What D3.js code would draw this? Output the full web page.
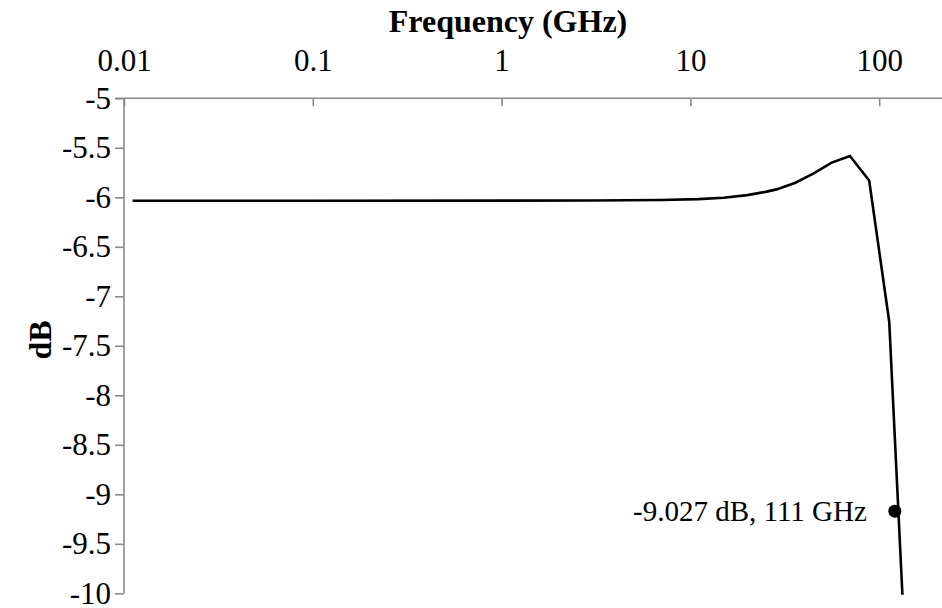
<!DOCTYPE html>
<html>
<head>
<meta charset="utf-8">
<script src="https://cdn.jsdelivr.net/npm/d3@7/dist/d3.min.js"></script>
<style>
  html, body { margin: 0; padding: 0; background: #fff; }
  svg { display: block; }
  svg text { font-family: "Liberation Serif", "Times New Roman", "DejaVu Serif", serif !important; }
</style>
</head>
<body>
<svg id="chart" width="942" height="608"></svg>
<script>
// ---- data ----
const freqGHz = [0.0111, 0.1, 1, 3, 7, 11, 15, 20, 25, 28.6, 36, 45, 56, 70, 88.5, 113, 133];
const gainDB  = [-6.035, -6.035, -6.034, -6.032, -6.028, -6.018, -6.005, -5.978, -5.945, -5.92, -5.853, -5.758, -5.65, -5.583, -5.83, -7.257, -10.05];
const xTickValues = [0.01, 0.1, 1, 10, 100];
const xTickLabels = ["0.01", "0.1", "1", "10", "100"];
const yTickValues = [-5, -5.5, -6, -6.5, -7, -7.5, -8, -8.5, -9, -9.5, -10];
const yTickLabels = ["-5", "-5.5", "-6", "-6.5", "-7", "-7.5", "-8", "-8.5", "-9", "-9.5", "-10"];
const markerFreq = [121];
const markerDB = [-9.17];
const markerText = ["-9.027 dB, 111 GHz"];
const xTitle = "Frequency (GHz)";
const yTitle = "dB";

// ---- layout ----
const W = 942, H = 608;
const plotLeft = 124, plotTop = 98.3, plotBottom = 593.3;
const decade = 188.8;
const serif = "'Liberation Serif', 'Times New Roman', 'DejaVu Serif', serif";

const svg = d3.select("#chart");
const x = d3.scaleLog().domain([0.01, 1000]).range([plotLeft, plotLeft + 5 * decade]);
const y = d3.scaleLinear().domain([-5, -10]).range([plotTop, plotBottom]);

const axisColor = "#8a8a8a";
const fontSize = 31;

svg.append("defs").append("clipPath").attr("id", "plotclip")
  .append("rect").attr("x", plotLeft).attr("y", plotTop).attr("width", W - plotLeft).attr("height", plotBottom - plotTop + 1.5);

// x axis (top)
const xAxis = d3.axisTop(x)
  .tickValues(xTickValues)
  .tickFormat((d, i) => xTickLabels[i])
  .tickSizeInner(-8)
  .tickSizeOuter(0)
  .tickPadding(0);
const gx = svg.append("g").attr("transform", `translate(0,${plotTop})`).call(xAxis)
  .attr("font-family", null).attr("font-size", null);
gx.select(".domain").remove();
gx.selectAll(".tick line").attr("stroke", axisColor).attr("stroke-width", 1.6);
gx.selectAll(".tick text")
  .attr("fill", "#000")
  .style("font-family", serif)
  .style("font-size", fontSize + "px")
  .attr("y", -27)
  .attr("dy", 0);
gx.append("line")
  .attr("x1", plotLeft - 9).attr("x2", W)
  .attr("y1", 0).attr("y2", 0)
  .attr("stroke", axisColor).attr("stroke-width", 1.6);

// y axis (left)
const yAxis = d3.axisLeft(y)
  .tickValues(yTickValues)
  .tickFormat((d, i) => yTickLabels[i])
  .tickSizeInner(9)
  .tickSizeOuter(0)
  .tickPadding(4);
const gy = svg.append("g").attr("transform", `translate(${plotLeft},0)`).call(yAxis)
  .attr("font-family", null).attr("font-size", null);
gy.select(".domain").remove();
gy.selectAll(".tick line").attr("stroke", axisColor).attr("stroke-width", 1.6);
gy.selectAll(".tick text")
  .attr("fill", "#000")
  .style("font-family", serif)
  .style("font-size", fontSize + "px");
gy.append("line")
  .attr("x1", 0).attr("x2", 0)
  .attr("y1", plotTop).attr("y2", plotBottom)
  .attr("stroke", axisColor).attr("stroke-width", 1.6);

// titles
svg.append("text")
  .attr("x", 508).attr("y", 32)
  .attr("text-anchor", "middle")
  .style("font-family", serif)
  .style("font-size", "32px")
  .style("font-weight", "bold")
  .text(xTitle);
svg.append("text")
  .attr("transform", `translate(51,340) rotate(-90)`)
  .attr("text-anchor", "middle")
  .style("font-family", serif)
  .style("font-size", "32px")
  .style("font-weight", "bold")
  .text(yTitle);

// line
const pts = freqGHz.map((f, i) => [f, gainDB[i]]);
const line = d3.line().x(d => x(d[0])).y(d => y(d[1])).curve(d3.curveLinear);
svg.append("path")
  .datum(pts)
  .attr("clip-path", "url(#plotclip)")
  .attr("fill", "none")
  .attr("stroke", "#000")
  .attr("stroke-width", 2.6)
  .attr("stroke-linejoin", "miter")
  .attr("d", line);

// marker + label
const mk = markerFreq.map((f, i) => ({ f, v: markerDB[i], t: markerText[i] }));
svg.selectAll("circle.mk").data(mk).enter().append("circle")
  .attr("class", "mk")
  .attr("cx", d => x(d.f)).attr("cy", d => y(d.v))
  .attr("r", 6.5).attr("fill", "#000");
svg.selectAll("text.mk").data(mk).enter().append("text")
  .attr("class", "mk")
  .attr("x", d => x(d.f) - 28).attr("y", d => y(d.v))
  .attr("dy", "0.35em")
  .attr("text-anchor", "end")
  .style("font-family", serif)
  .style("font-size", "29px")
  .text(d => d.t);
</script>
</body>
</html>
